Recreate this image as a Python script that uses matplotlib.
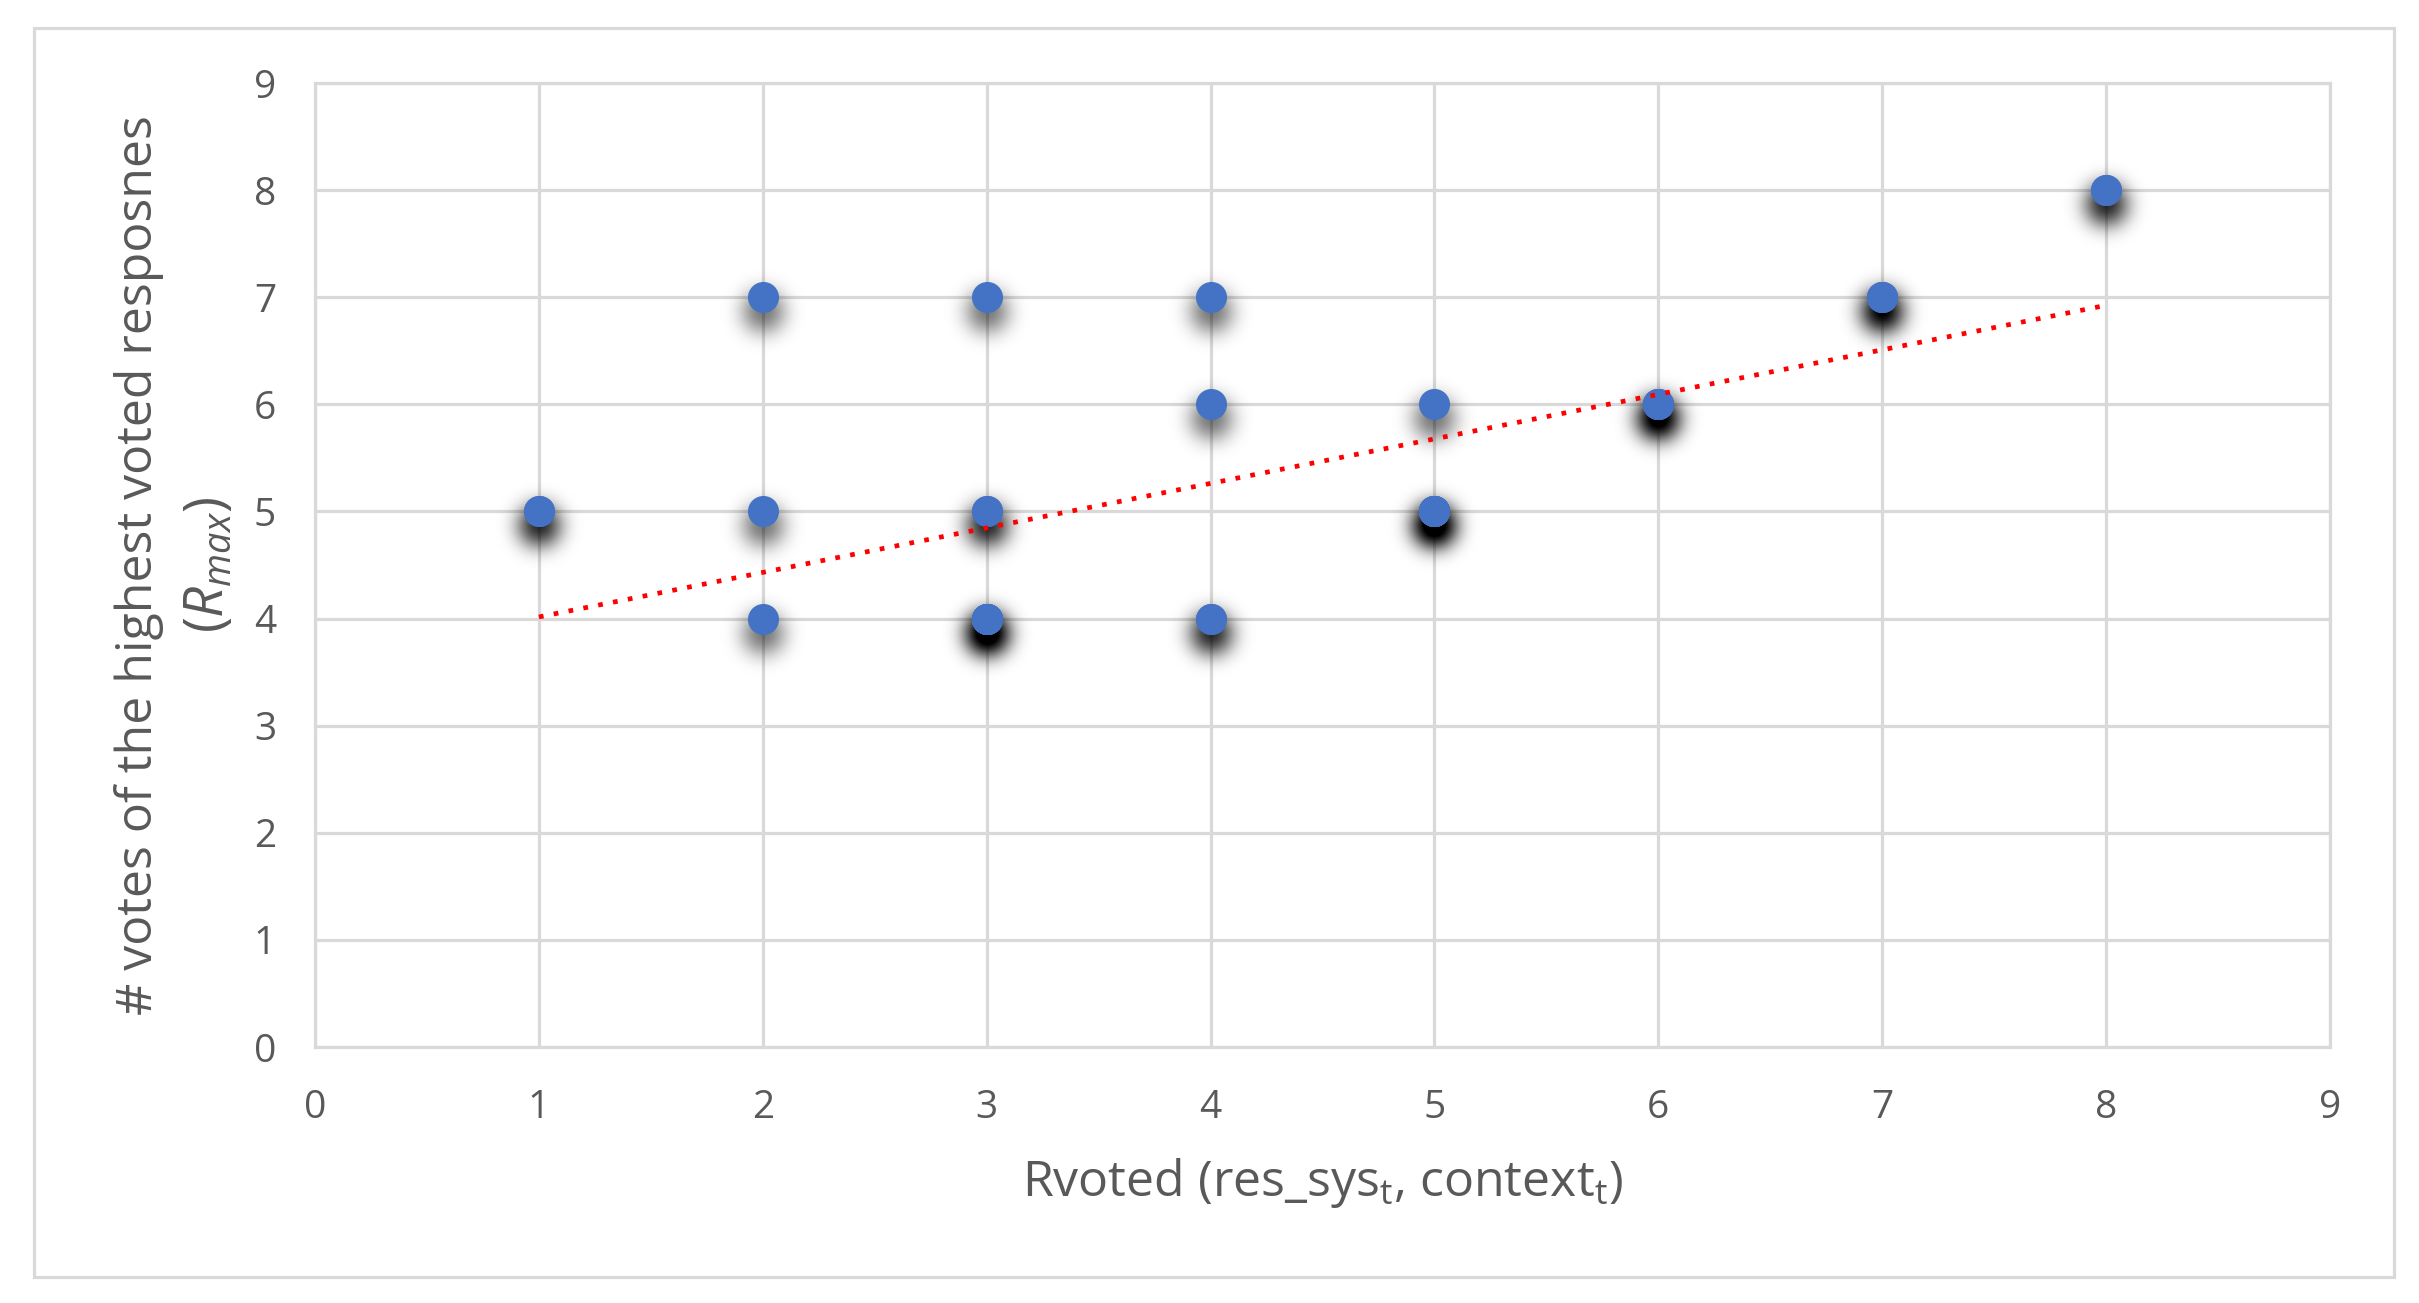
import numpy as np
import matplotlib
matplotlib.use("Agg")
import matplotlib.pyplot as plt
from matplotlib.patches import Rectangle

# ---------------- data ----------------
x_vals = [1, 2, 2, 2, 3, 3, 3, 4, 4, 4, 5, 5, 6, 7, 8]
y_vals = [5, 7, 5, 4, 7, 5, 4, 7, 6, 4, 6, 5, 6, 7, 8]
counts = [2, 1, 1, 1, 1, 2, 7, 1, 1, 2, 1, 7, 4, 3, 2]   # overlapping observations
x_ticks = list(range(0, 10))
y_ticks = list(range(0, 10))
x_title = r"Rvoted (res_sys$_\mathrm{t}$, context$_\mathrm{t}$)"
y_title_1 = "# votes of the highest voted resposnes"
y_title_2 = r"($\mathit{R}_{\mathit{max}}$)"

# ---------------- style ----------------
FONT = "Open Sans"
plt.rcParams["font.family"] = [FONT, "DejaVu Sans"]
plt.rcParams["mathtext.fontset"] = "custom"
plt.rcParams["mathtext.rm"] = FONT
plt.rcParams["mathtext.it"] = FONT + ":italic"
TXT = "#595959"
GRID = "#D9D9D9"
BLUE = "#4472C4"

W, H = 2419, 1303
fig = plt.figure(figsize=(W / 100, H / 100), dpi=100)
L, R, B, T = 315, 2330, 1047, 83
ax = fig.add_axes([L / W, 1 - B / H, (R - L) / W, (B - T) / H])

xs = np.repeat(np.array(x_vals, float), counts)
ys = np.repeat(np.array(y_vals, float), counts)


# soft drop shadow through an agg filter
def shadow_filter(im, dpi, sigma=7.5, dy=7, pad=45, gain=1.25):
    a = np.pad(im[..., 3], pad)
    r = int(3 * sigma)
    k = np.exp(-0.5 * (np.arange(-r, r + 1) / sigma) ** 2)
    k /= k.sum()

    def blur(arr, axis):
        widths = [(r, r) if i == axis else (0, 0) for i in range(2)]
        ap = np.pad(arr, widths)
        out = np.zeros_like(arr)
        n = arr.shape[axis]
        for i, w in enumerate(k):
            if axis == 0:
                out += w * ap[i:i + n, :]
            else:
                out += w * ap[:, i:i + n]
        return out

    a = np.clip(blur(blur(a, 0), 1) * gain, 0, 1)
    out = np.zeros(a.shape + (4,))
    out[..., 3] = a
    return out, -pad, -pad - dy


shadow = ax.scatter(xs, ys, s=820, color="black", alpha=0.4, linewidths=0,
                    zorder=3, clip_on=False)
shadow.set_agg_filter(shadow_filter)
shadow.set_rasterized(True)

ax.scatter(xs, ys, s=500, color=BLUE, linewidths=0, zorder=4, clip_on=False)

# linear trend line
slope, intercept = np.polyfit(xs, ys, 1)
tx = np.array([xs.min(), xs.max()])
ax.plot(tx, slope * tx + intercept, color="#FF0000", lw=3.4,
        linestyle=(0, (1.0, 2.2)), dash_capstyle="butt", zorder=5)

# axes
ax.set_xlim(0, 9)
ax.set_ylim(0, 9)
ax.set_xticks(x_ticks)
ax.set_yticks(y_ticks)
ax.grid(True, color=GRID, lw=2.3, zorder=0)
ax.set_axisbelow(True)
for sp in ax.spines.values():
    sp.set_color(GRID)
    sp.set_linewidth(2.3)
ax.tick_params(length=0, labelsize=28, labelcolor=TXT)
ax.tick_params(axis="y", pad=28)
ax.tick_params(axis="x", pad=30)

ax.set_xlabel(x_title, fontsize=36, color=TXT)
ax.xaxis.set_label_coords(0.5, (B - 1183) / (B - T))
ax.xaxis.label.set_va("center")

ax.set_ylabel(y_title_1, fontsize=36, color=TXT)
ax.yaxis.set_label_coords((139 - L) / (R - L), 0.5)
ax.yaxis.label.set_va("center")
ax.text((208 - L) / (R - L), 0.5, y_title_2, transform=ax.transAxes,
        rotation=90, ha="center", va="center", fontsize=39, color=TXT)

# outer chart border
fig.patches.append(Rectangle((34 / W, 1 - 1277 / H), (2394 - 34) / W, (1277 - 28) / H,
                             transform=fig.transFigure, fill=False,
                             edgecolor=GRID, lw=2.3))

fig.savefig("out.png", dpi=100, facecolor="white")
